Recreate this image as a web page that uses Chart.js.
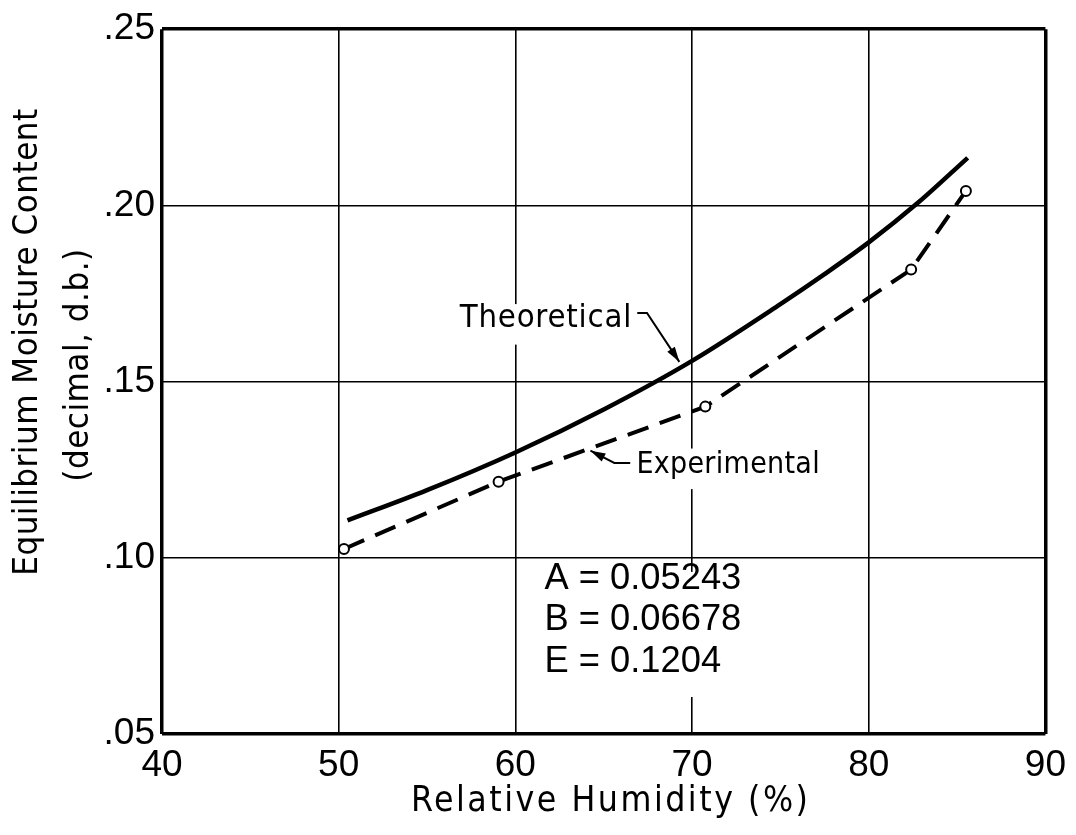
<!DOCTYPE html>
<html>
<head>
<meta charset="utf-8">
<script src="https://cdn.jsdelivr.net/npm/chart.js@4.4.1/dist/chart.umd.min.js"></script>
<style>
  html, body { margin: 0; padding: 0; background: #fff; }
  #wrap { width: 1076px; height: 835px; }
</style>
</head>
<body>
<div id="wrap"><canvas id="emc-chart" width="1076" height="835"></canvas></div>
<script>
// Equilibrium moisture content vs relative humidity

const xTicks = [40, 50, 60, 70, 80, 90];
const yTicks = [0.05, 0.10, 0.15, 0.20, 0.25];

// theoretical curve
const theoRH  = [50.5, 55, 60, 65, 70, 75, 77.5, 80, 82.8, 85.6];
const theoEMC = [0.1106, 0.1192, 0.1299, 0.1421, 0.1559, 0.1720, 0.1805, 0.1895, 0.2008, 0.2135];

// experimental points
const expRH  = [50.3, 59.05, 70.75, 82.4, 85.5];
const expEMC = [0.1025, 0.1216, 0.1429, 0.1818, 0.2041];

const constLines = ['A = 0.05243', 'B = 0.06678', 'E = 0.1204'];

const BLACK = '#000';
const FONT = "'Liberation Sans', 'Arial', sans-serif";
const COND = "'DejaVu Sans Condensed', 'Liberation Sans', sans-serif";

const toXY = (xs, ys) => xs.map((x, i) => ({ x: x, y: ys[i] }));

// pick a font size so the text spans the given width
function fitFont(ctx, text, family, width, spacing) {
  ctx.letterSpacing = spacing + 'px';
  ctx.font = '40px ' + family;
  const gaps = spacing * (text.length - 1);
  const w = ctx.measureText(text).width - spacing;
  const size = 40 * (width - gaps) / (w - gaps);
  ctx.font = size.toFixed(1) + 'px ' + family;
  return size;
}

function arrow(ctx, pts) {
  ctx.beginPath();
  ctx.moveTo(pts[0][0], pts[0][1]);
  for (let i = 1; i < pts.length; i++) ctx.lineTo(pts[i][0], pts[i][1]);
  ctx.stroke();
  const [x1, y1] = pts[pts.length - 2];
  const [x2, y2] = pts[pts.length - 1];
  const a = Math.atan2(y2 - y1, x2 - x1);
  const len = 15, w = 4.5;
  ctx.beginPath();
  ctx.moveTo(x2, y2);
  ctx.lineTo(x2 - len * Math.cos(a) + w * Math.sin(a), y2 - len * Math.sin(a) - w * Math.cos(a));
  ctx.lineTo(x2 - len * Math.cos(a) - w * Math.sin(a), y2 - len * Math.sin(a) + w * Math.cos(a));
  ctx.closePath();
  ctx.fill();
}

// labels, leader lines and axis titles
const notes = {
  id: 'notes',
  beforeDatasetsDraw(chart) {
    const { ctx, scales: { x, y } } = chart;
    ctx.save();
    ctx.fillStyle = '#fff';
    // white patches behind the lettering (grid is broken there in the original)
    const boxes = [
      [56.6, 0.1720, 67.2, 0.1605],
      [66.5, 0.1310, 78.5, 0.1195],
      [61.0, 0.0960, 73.5, 0.0605],
    ];
    boxes.forEach(b => {
      const x0 = x.getPixelForValue(b[0]), y0 = y.getPixelForValue(b[1]);
      const x1 = x.getPixelForValue(b[2]), y1 = y.getPixelForValue(b[3]);
      ctx.fillRect(x0, y0, x1 - x0, y1 - y0);
    });
    ctx.restore();
  },
  afterDatasetsDraw(chart) {
    const { ctx, scales: { x, y } } = chart;
    const px = v => x.getPixelForValue(v);
    const py = v => y.getPixelForValue(v);
    ctx.save();
    ctx.fillStyle = BLACK;
    ctx.strokeStyle = BLACK;
    ctx.textBaseline = 'middle';
    ctx.textAlign = 'left';

    fitFont(ctx, 'Theoretical', COND, 172, 0.8);
    ctx.fillText('Theoretical', px(56.85), py(0.1680));
    fitFont(ctx, 'Experimental', COND, 183, 0.3);
    ctx.fillText('Experimental', px(66.85), py(0.1262));

    ctx.lineWidth = 2;
    arrow(ctx, [[px(66.9), py(0.1695)], [px(67.45), py(0.1695)], [px(69.28), py(0.1556)]]);
    arrow(ctx, [[px(66.5), py(0.1269)], [px(65.6), py(0.1269)], [px(64.25), py(0.1304)]]);

    fitFont(ctx, constLines[0], FONT, 197, 0);
    const rows = [0.0940, 0.0824, 0.0705];
    constLines.forEach((t, i) => ctx.fillText(t, px(61.65), py(rows[i])));

    // axis titles
    const area = chart.chartArea;
    ctx.textAlign = 'center';
    fitFont(ctx, 'Relative Humidity (%)', COND, 397, 2.5);
    ctx.fillText('Relative Humidity (%)', (area.left + area.right) / 2 + 7, 802);

    fitFont(ctx, 'Equilibrium Moisture Content', COND, 467, 0.5);
    ctx.translate(28, 342);
    ctx.rotate(-Math.PI / 2);
    ctx.fillText('Equilibrium Moisture Content', 0, 0);
    ctx.fillText('(decimal, d.b.)', -23, 51);
    ctx.restore();
  },
};

const gridWidth = ctx => {
  const ticks = ctx.scale.ticks;
  return (ctx.index === 0 || ctx.index === ticks.length - 1) ? 3.5 : 1.6;
};

new Chart(document.getElementById('emc-chart'), {
  type: 'line',
  data: {
    datasets: [
      {
        label: 'Theoretical',
        data: toXY(theoRH, theoEMC),
        borderColor: BLACK,
        borderWidth: 4.5,
        pointRadius: 0,
        cubicInterpolationMode: 'monotone',
        fill: false,
      },
      {
        label: 'Experimental',
        data: toXY(expRH, expEMC),
        borderColor: BLACK,
        borderWidth: 4,
        borderDash: [22, 12],
        tension: 0,
        pointRadius: 5,
        pointBackgroundColor: '#fff',
        pointBorderColor: BLACK,
        pointBorderWidth: 2,
        fill: false,
      },
    ],
  },
  options: {
    responsive: false,
    animation: false,
    devicePixelRatio: 1,
    layout: { padding: { top: 29, right: 29, left: 0, bottom: 0 } },
    plugins: {
      legend: { display: false },
      tooltip: { enabled: false },
    },
    scales: {
      x: {
        type: 'linear',
        min: 40, max: 90,
        afterBuildTicks: s => { s.ticks = xTicks.map(v => ({ value: v })); },
        afterFit: s => { s.height = 101; },
        border: { display: false },
        grid: { color: BLACK, lineWidth: gridWidth, drawTicks: false },
        ticks: { color: BLACK, font: { family: FONT, size: 37 }, padding: 10, maxRotation: 0 },
      },
      y: {
        type: 'linear',
        min: 0.05, max: 0.25,
        afterBuildTicks: s => { s.ticks = yTicks.map(v => ({ value: v })); },
        afterFit: s => { s.width = 162; },
        border: { display: false },
        grid: { color: BLACK, lineWidth: gridWidth, drawTicks: false },
        ticks: {
          color: BLACK, font: { family: FONT, size: 37 }, padding: 7,
          callback: v => v.toFixed(2).replace(/^0/, ''),
        },
      },
    },
  },
  plugins: [notes],
});
</script>
</body>
</html>
